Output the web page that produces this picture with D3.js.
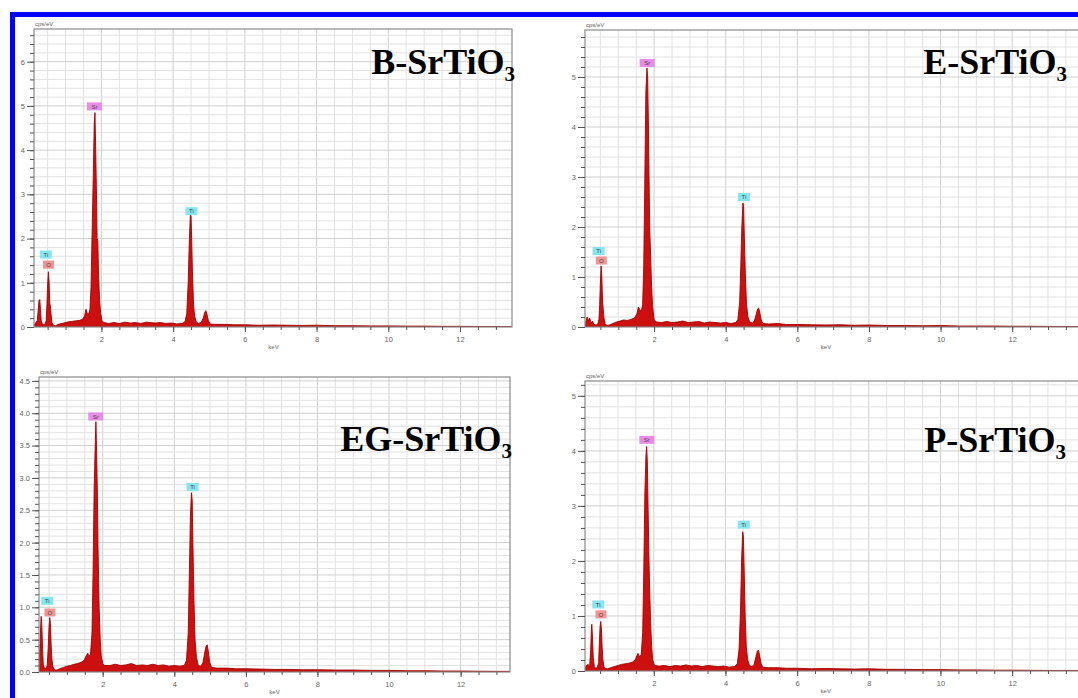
<!DOCTYPE html>
<html>
<head>
<meta charset="utf-8">
<script src="https://cdn.jsdelivr.net/npm/d3@7"></script>
<style>
  body { margin: 0; background: #fff; }
  svg { display: block; }
</style>
</head>
<body>
<script>
// sample names shown as panel titles
const sampleNames = ['B', 'E', 'EG', 'P'];

// spectra: [keV, cps/eV]
const spectrumB = [
  [0.12,0.03],[0.17,0.1],[0.21,0.14],[0.24,0.4],[0.26,0.6],[0.28,0.62],[0.3,0.4],[0.32,0.15],[0.35,0.07],
  [0.39,0.05],[0.43,0.07],[0.46,0.15],[0.48,0.5],[0.5,0.95],[0.52,1.25],[0.54,1.05],[0.56,0.55],[0.58,0.45],
  [0.6,0.25],[0.62,0.1],[0.66,0.04],[0.72,0.03],[0.8,0.06],[0.9,0.08],[1.0,0.1],[1.1,0.12],[1.2,0.13],
  [1.3,0.14],[1.4,0.15],[1.48,0.18],[1.53,0.25],[1.57,0.4],[1.6,0.32],[1.64,0.28],[1.68,0.4],[1.71,0.9],
  [1.74,2.1],[1.77,3.3],[1.8,4.6],[1.82,4.85],[1.84,4.05],[1.86,3.1],[1.88,2.0],[1.9,1.95],[1.92,1.2],
  [1.95,0.6],[1.98,0.3],[2.02,0.13],[2.08,0.1],[2.2,0.08],[2.35,0.1],[2.5,0.08],[2.65,0.11],[2.8,0.09],
  [2.95,0.1],[3.1,0.08],[3.25,0.11],[3.35,0.1],[3.5,0.09],[3.65,0.1],[3.8,0.08],[3.95,0.09],[4.1,0.07],
  [4.25,0.08],[4.33,0.12],[4.38,0.3],[4.42,1.0],[4.45,1.9],[4.48,2.55],[4.5,2.5],[4.52,1.9],[4.54,1.2],
  [4.57,0.5],[4.6,0.25],[4.64,0.12],[4.7,0.08],[4.78,0.1],[4.84,0.2],[4.88,0.33],[4.91,0.37],[4.94,0.3],
  [4.98,0.15],[5.03,0.07],[5.15,0.06],[5.4,0.06],[5.7,0.05],[6.0,0.05],[6.4,0.04],[6.8,0.045],[7.2,0.04],
  [7.6,0.035],[8.0,0.04],[8.5,0.03],[9.0,0.03],[9.5,0.025],[10.0,0.025],[10.5,0.02],[11.0,0.02],
  [11.5,0.015],[12.0,0.015],[12.5,0.012],[13.0,0.01],[13.45,0.01]
];
const spectrumE = [
  [0.07,0.04],[0.1,0.12],[0.13,0.2],[0.16,0.12],[0.2,0.18],[0.24,0.08],[0.28,0.12],[0.32,0.05],[0.38,0.04],
  [0.43,0.06],[0.46,0.15],[0.48,0.45],[0.5,0.9],[0.52,1.22],[0.54,1.0],[0.56,0.5],[0.58,0.35],[0.6,0.18],
  [0.63,0.07],[0.68,0.03],[0.75,0.04],[0.85,0.07],[0.95,0.1],[1.05,0.12],[1.15,0.14],[1.25,0.13],[1.35,0.15],
  [1.45,0.18],[1.52,0.26],[1.56,0.4],[1.6,0.35],[1.64,0.3],[1.68,0.45],[1.71,1.2],[1.74,2.9],[1.77,4.7],
  [1.8,5.18],[1.82,5.0],[1.84,4.1],[1.86,2.9],[1.88,1.9],[1.9,1.5],[1.93,0.8],[1.96,0.4],[2.0,0.15],
  [2.06,0.1],[2.2,0.09],[2.35,0.11],[2.5,0.09],[2.65,0.1],[2.8,0.12],[2.95,0.09],[3.1,0.1],[3.25,0.11],
  [3.4,0.08],[3.55,0.1],[3.7,0.09],[3.85,0.08],[4.0,0.09],[4.15,0.07],[4.28,0.09],[4.34,0.15],[4.39,0.5],
  [4.42,1.2],[4.45,2.0],[4.48,2.48],[4.5,2.4],[4.52,1.8],[4.55,1.0],[4.58,0.45],[4.62,0.2],[4.67,0.1],
  [4.74,0.08],[4.8,0.12],[4.85,0.25],[4.89,0.36],[4.92,0.38],[4.95,0.3],[4.99,0.14],[5.04,0.07],[5.2,0.06],
  [5.45,0.07],[5.7,0.05],[6.0,0.05],[6.4,0.045],[6.8,0.04],[7.2,0.045],[7.6,0.035],[8.0,0.04],[8.5,0.03],
  [9.0,0.03],[9.5,0.025],[10.0,0.03],[10.5,0.02],[11.0,0.02],[11.5,0.02],[12.0,0.015],[12.5,0.015],
  [13.0,0.012],[13.5,0.01],[13.9,0.01]
];
const spectrumEG = [
  [0.2,0.05],[0.23,0.2],[0.26,0.6],[0.28,0.86],[0.3,0.7],[0.32,0.35],[0.34,0.12],[0.37,0.06],[0.41,0.05],
  [0.45,0.1],[0.48,0.4],[0.5,0.7],[0.52,0.84],[0.54,0.75],[0.56,0.4],[0.58,0.2],[0.61,0.08],[0.66,0.03],
  [0.72,0.03],[0.8,0.05],[0.9,0.07],[1.0,0.09],[1.1,0.1],[1.2,0.12],[1.3,0.13],[1.4,0.15],[1.48,0.18],
  [1.54,0.25],[1.58,0.29],[1.62,0.24],[1.66,0.28],[1.7,0.6],[1.73,1.5],[1.76,2.8],[1.79,3.5],[1.81,3.87],
  [1.83,3.4],[1.85,2.8],[1.87,1.9],[1.9,1.0],[1.93,0.5],[1.96,0.25],[2.0,0.13],[2.06,0.1],[2.2,0.1],
  [2.35,0.12],[2.5,0.1],[2.65,0.11],[2.8,0.13],[2.95,0.1],[3.1,0.11],[3.25,0.1],[3.4,0.12],[3.55,0.1],
  [3.7,0.11],[3.85,0.09],[4.0,0.1],[4.15,0.09],[4.28,0.1],[4.34,0.18],[4.39,0.6],[4.42,1.5],[4.45,2.4],
  [4.48,2.77],[4.5,2.65],[4.52,2.0],[4.55,1.1],[4.58,0.5],[4.62,0.22],[4.67,0.1],[4.74,0.09],[4.8,0.14],
  [4.85,0.3],[4.89,0.4],[4.92,0.42],[4.95,0.32],[4.99,0.15],[5.04,0.07],[5.2,0.06],[5.45,0.06],[5.7,0.05],
  [6.0,0.05],[6.4,0.045],[6.8,0.04],[7.2,0.04],[7.6,0.035],[8.0,0.035],[8.5,0.03],[9.0,0.03],[9.5,0.025],
  [10.0,0.025],[10.5,0.02],[11.0,0.02],[11.5,0.015],[12.0,0.015],[12.5,0.012],[13.0,0.01],[13.4,0.01]
];
const spectrumP = [
  [0.08,0.05],[0.12,0.1],[0.17,0.12],[0.21,0.08],[0.24,0.4],[0.26,0.78],[0.27,0.85],[0.29,0.6],[0.31,0.25],
  [0.34,0.08],[0.38,0.05],[0.42,0.06],[0.46,0.15],[0.48,0.5],[0.5,0.8],[0.52,0.9],[0.54,0.75],[0.56,0.4],
  [0.58,0.2],[0.61,0.08],[0.66,0.04],[0.72,0.04],[0.8,0.06],[0.9,0.08],[1.0,0.1],[1.1,0.12],[1.2,0.13],
  [1.3,0.14],[1.4,0.16],[1.48,0.2],[1.53,0.28],[1.56,0.32],[1.6,0.26],[1.65,0.3],[1.69,0.7],[1.72,1.8],
  [1.75,3.2],[1.78,3.9],[1.8,4.08],[1.82,3.8],[1.84,3.0],[1.86,2.2],[1.88,1.6],[1.91,0.9],[1.94,0.45],
  [1.97,0.2],[2.02,0.1],[2.15,0.09],[2.3,0.1],[2.45,0.08],[2.6,0.1],[2.75,0.09],[2.9,0.11],[3.05,0.09],
  [3.2,0.1],[3.35,0.08],[3.5,0.1],[3.65,0.09],[3.8,0.08],[3.95,0.09],[4.1,0.07],[4.25,0.08],[4.33,0.13],
  [4.38,0.4],[4.42,1.1],[4.45,2.0],[4.48,2.53],[4.5,2.45],[4.52,1.9],[4.55,1.0],[4.58,0.45],[4.62,0.2],
  [4.67,0.1],[4.74,0.08],[4.8,0.12],[4.85,0.26],[4.89,0.36],[4.92,0.38],[4.95,0.3],[4.99,0.14],[5.04,0.07],
  [5.2,0.06],[5.45,0.06],[5.7,0.05],[6.0,0.05],[6.4,0.04],[6.8,0.045],[7.2,0.04],[7.6,0.035],[8.0,0.04],
  [8.5,0.03],[9.0,0.03],[9.5,0.025],[10.0,0.025],[10.5,0.02],[11.0,0.02],[11.5,0.015],[12.0,0.015],
  [12.5,0.012],[13.0,0.01],[13.5,0.01],[13.9,0.01]
];

// peak markers: [element, keV, cps/eV of the box centre]
const peakLabelsB  = [['Ti',0.45,1.64],['O',0.525,1.41],['Sr',1.806,4.99],['Ti',4.51,2.62]];
const peakLabelsE  = [['Ti',0.45,1.52],['O',0.525,1.33],['Sr',1.806,5.28],['Ti',4.51,2.6]];
const peakLabelsEG = [['Ti',0.45,1.1],['O',0.525,0.92],['Sr',1.806,3.95],['Ti',4.51,2.86]];
const peakLabelsP  = [['Ti',0.45,1.21],['O',0.525,1.03],['Sr',1.806,4.2],['Ti',4.51,2.66]];

// axis ticks
const xTicks = [2, 4, 6, 8, 10, 12];
const yTicksB = [0, 1, 2, 3, 4, 5, 6];
const yTicksE = [0, 1, 2, 3, 4, 5];
const yTicksEG = [0, 0.5, 1, 1.5, 2, 2.5, 3, 3.5, 4, 4.5];
const yTicksP = [0, 1, 2, 3, 4, 5];

const labelColors = { Sr: '#e78de6', Ti: '#86e6ef', O: '#f09593' };
const labelWidths = { Sr: 15, Ti: 12, O: 11 };

const W = 1078, H = 698;
const svg = d3.select('body').append('svg')
  .attr('width', W)
  .attr('height', H);

svg.append('rect').attr('width', W).attr('height', H).attr('fill', '#fff');

// layout of each panel (pixel frame + axis domains)
const panels = [
  { name: sampleNames[0], spec: spectrumB, labels: peakLabelsB, yTicks: yTicksB, yStep: 0.2, fmt: d3.format('d'),
    left: 34, right: 512, top: 29, bottom: 327, xMin: 0.12, xMax: 13.45, yMax: 6.74, titleX: 515, titleY: 74 },
  { name: sampleNames[1], spec: spectrumE, labels: peakLabelsE, yTicks: yTicksE, yStep: 0.2, fmt: d3.format('d'),
    left: 585, right: 1082, top: 30, bottom: 327, xMin: 0.07, xMax: 13.95, yMax: 5.94, titleX: 1067, titleY: 74 },
  { name: sampleNames[2], spec: spectrumEG, labels: peakLabelsEG, yTicks: yTicksEG, yStep: 0.1, fmt: d3.format('.1f'),
    left: 39, right: 510, top: 377, bottom: 672, xMin: 0.22, xMax: 13.38, yMax: 4.56, titleX: 512, titleY: 451 },
  { name: sampleNames[3], spec: spectrumP, labels: peakLabelsP, yTicks: yTicksP, yStep: 0.2, fmt: d3.format('d'),
    left: 585, right: 1082, top: 381, bottom: 671, xMin: 0.08, xMax: 13.95, yMax: 5.27, titleX: 1066, titleY: 452 }
];

panels.forEach((p, i) => {
  const x = d3.scaleLinear().domain([p.xMin, p.xMax]).range([p.left, p.right]);
  const y = d3.scaleLinear().domain([0, p.yMax]).range([p.bottom, p.top]);
  const g = svg.append('g');

  const clipId = 'clip' + i;
  g.append('clipPath').attr('id', clipId)
    .append('rect')
    .attr('x', p.left).attr('y', p.top)
    .attr('width', p.right - p.left).attr('height', p.bottom - p.top);

  // grid
  const xMinor = d3.range(0.5, 14.01, 0.5).filter(v => v > p.xMin && v < p.xMax);
  const yMinor = d3.range(0, p.yMax, p.yStep).map(v => +v.toFixed(2)).filter(v => v > 0);
  g.append('g').selectAll('line').data(xMinor).enter().append('line')
    .attr('x1', d => x(d)).attr('x2', d => x(d))
    .attr('y1', p.top).attr('y2', p.bottom)
    .attr('stroke', d => d % 2 === 0 ? '#cfcfcf' : '#e2e2e2')
    .attr('stroke-width', 1);
  g.append('g').selectAll('line').data(yMinor).enter().append('line')
    .attr('x1', p.left).attr('x2', p.right)
    .attr('y1', d => y(d)).attr('y2', d => y(d))
    .attr('stroke', d => p.yTicks.includes(d) ? '#cfcfcf' : '#e2e2e2')
    .attr('stroke-width', 1);

  // spectrum
  const area = d3.area()
    .x(d => x(d[0]))
    .y0(y(0))
    .y1(d => y(d[1]));
  g.append('path')
    .datum(p.spec)
    .attr('clip-path', `url(#${clipId})`)
    .attr('d', area)
    .attr('fill', '#cc1010')
    .attr('stroke', '#a30000')
    .attr('stroke-width', 0.9)
    .attr('stroke-linejoin', 'round');

  // frame
  g.append('rect')
    .attr('x', p.left).attr('y', p.top)
    .attr('width', p.right - p.left).attr('height', p.bottom - p.top)
    .attr('fill', 'none')
    .attr('stroke', '#8a8a8a')
    .attr('stroke-width', 1.2);

  // axes: major and minor ticks
  const xAxisMinor = g.append('g')
    .attr('transform', `translate(0,${p.bottom})`)
    .call(d3.axisBottom(x).tickValues(xMinor).tickSize(3).tickFormat(''));
  const xAxis = g.append('g')
    .attr('transform', `translate(0,${p.bottom})`)
    .call(d3.axisBottom(x).tickValues(xTicks).tickSize(5).tickPadding(5).tickFormat(d3.format('d')));
  const yAxisMinor = g.append('g')
    .attr('transform', `translate(${p.left},0)`)
    .call(d3.axisLeft(y).tickValues(yMinor).tickSize(4).tickFormat(''));
  const yAxis = g.append('g')
    .attr('transform', `translate(${p.left},0)`)
    .call(d3.axisLeft(y).tickValues(p.yTicks).tickSize(7).tickPadding(2).tickFormat(p.fmt));

  [xAxisMinor, xAxis, yAxisMinor, yAxis].forEach(a => {
    a.select('.domain').remove();
    a.selectAll('.tick line').attr('stroke', '#555').attr('stroke-width', 1);
    a.selectAll('text')
      .attr('fill', '#666')
      .style('font-family', 'Liberation Sans, Arial, sans-serif')
      .style('font-size', '7.5px');
  });

  // axis captions
  g.append('text')
    .attr('x', p.left + 1).attr('y', p.top - 3)
    .attr('fill', '#666')
    .style('font-family', 'Liberation Sans, Arial, sans-serif')
    .style('font-size', '6px')
    .text('cps/eV');
  g.append('text')
    .attr('x', x(6.8)).attr('y', p.bottom + 22)
    .attr('text-anchor', 'middle')
    .attr('fill', '#666')
    .style('font-family', 'Liberation Sans, Arial, sans-serif')
    .style('font-size', '6px')
    .text('keV');

  // peak labels
  const lab = g.append('g').selectAll('g').data(p.labels).enter().append('g')
    .attr('transform', d => `translate(${x(d[1])},${y(d[2])})`);
  lab.append('rect')
    .attr('x', d => -labelWidths[d[0]] / 2).attr('y', -4)
    .attr('width', d => labelWidths[d[0]]).attr('height', 8)
    .attr('fill', d => labelColors[d[0]]);
  lab.append('text')
    .attr('text-anchor', 'middle')
    .attr('dy', '2.2')
    .attr('fill', '#444')
    .style('font-family', 'Liberation Sans, Arial, sans-serif')
    .style('font-size', '6px')
    .text(d => d[0]);

  // sample title
  const t = g.append('text')
    .attr('x', p.titleX).attr('y', p.titleY)
    .attr('text-anchor', 'end')
    .attr('fill', '#000')
    .style('font-family', 'Liberation Serif, Times New Roman, serif')
    .style('font-weight', 'bold')
    .style('font-size', '36px');
  t.append('tspan').text(p.name + '-SrTiO');
  t.append('tspan').attr('dy', 7).style('font-size', '21px').text('3');
});

// blue outer border (its right and bottom edges fall outside the picture)
svg.append('rect')
  .attr('x', 12.5).attr('y', 14.5)
  .attr('width', 1100).attr('height', 720)
  .attr('fill', 'none')
  .attr('stroke', '#0000ff')
  .attr('stroke-width', 5);
</script>
</body>
</html>
